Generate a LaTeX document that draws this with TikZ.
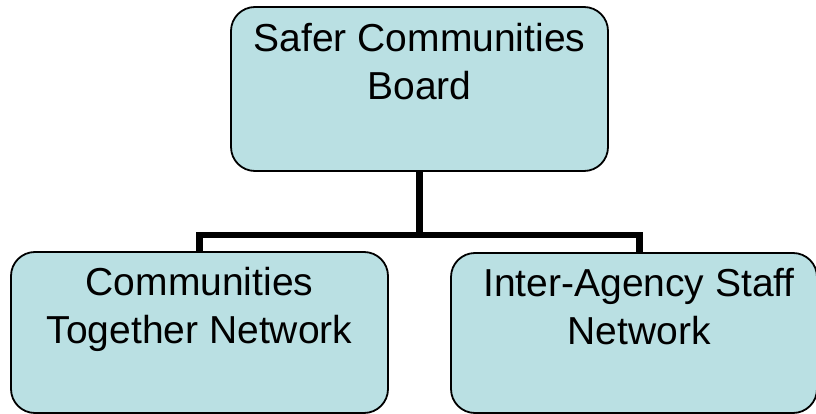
\documentclass[tikz,border=0pt]{standalone}
\usepackage{fontspec}
\setmainfont{Liberation Sans}
\definecolor{boxfill}{RGB}{186,224,227}
\begin{document}
\begin{tikzpicture}[x=1pt,y=-1pt,
  orgbox/.style={draw=black, line width=1.8pt, fill=boxfill, rounded corners=24pt, inner sep=0pt},
  lbl/.style={align=center, inner sep=0pt, anchor=base, font=\fontsize{39}{48}\selectfont},
  conn/.style={draw=black, line width=6.5pt, line join=miter, line cap=butt}]
\useasboundingbox (0,0) rectangle (816,414);
\node[orgbox, minimum width=377pt, minimum height=164pt] (top) at (419.5,89) {};
\node[orgbox, minimum width=377pt, minimum height=161pt] (left) at (199.5,332.5) {};
\node[orgbox, minimum width=366pt, minimum height=160pt] (right) at (634,333) {};
\coordinate (rj) at (639.5,235);
\draw[conn] (top.south) -- (top.south |- rj);
\draw[conn] (left.north) |- (rj) -- (rj |- right.north);
\node[lbl] (ttext) at (419.5,100) {Safer Communities\\Board};
\node[lbl] (ltext) at (199.5,343) {Communities\\Together Network};
\node[lbl] (rtext) at (639,344) {Inter-Agency Staff\\Network};
\end{tikzpicture}
\end{document}
